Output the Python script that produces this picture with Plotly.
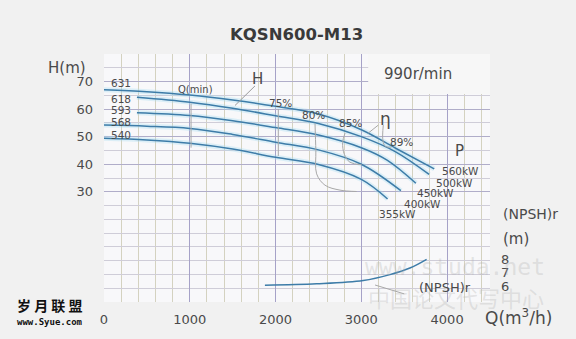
import plotly.graph_objects as go

# ---------------- data ----------------
diam_labels = ["631", "618", "593", "568", "540"]
q_631 = [0, 500, 1000, 1500, 2000, 2500, 3000, 3400, 3850]
h_631 = [67.0, 66.3, 65.1, 63.3, 61.0, 58.2, 52.5, 45.8, 38.3]
q_618 = [384, 1000, 1500, 2000, 2500, 3000, 3400, 3790]
h_618 = [64.3, 62.5, 60.3, 57.6, 54.8, 50.0, 44.5, 36.3]
q_593 = [384, 1000, 1500, 2000, 2500, 3000, 3300, 3636]
h_593 = [58.7, 57.7, 55.8, 53.3, 50.6, 46.0, 41.5, 33.1]
q_568 = [0, 500, 1000, 1500, 2000, 2500, 3000, 3461]
h_568 = [54.2, 53.8, 53.0, 50.8, 48.0, 45.2, 40.0, 30.4]
q_540 = [0, 500, 1000, 1500, 2000, 2500, 3000, 3306]
h_540 = [49.4, 48.8, 47.6, 45.5, 42.5, 39.9, 34.5, 27.4]

power_labels = ["560kW", "500kW", "450kW", "400kW", "355kW"]
power_q = [3917, 3847, 3626, 3470, 3179]
power_h = [37.5, 33.3, 29.4, 25.7, 22.1]
diam_label_h = [69.6, 63.7, 59.6, 55.4, 50.7]

# iso-efficiency lines
qmin_q = [1015, 1015]
qmin_h = [62.0, 46.0]
eff75_q = [2032, 2032]
eff75_h = [60.0, 43.0]
eff80_q = [2460, 2470, 2479, 2576, 2751, 2946]
eff80_h = [54.8, 45.0, 36.5, 32.4, 30.6, 30.1]
eff85_q = [2810, 2782, 2802, 2868, 3004]
eff85_h = [51.3, 47.8, 43.6, 40.7, 39.8]
eff89_q = [3256, 3252, 3280, 3350]
eff89_h = [54.2, 48.5, 46.5, 46.2]

# NPSHr curve
npsh_q = [1876, 2479, 3022, 3333, 3566, 3761]
npsh_v = [6.09, 6.19, 6.43, 6.86, 7.34, 7.98]

x_ticks = [0, 1000, 2000, 3000, 4000]
h_ticks = [30, 40, 50, 60, 70]
npsh_ticks = [6, 7, 8]

FONT = "DejaVu Sans"
TXT = "#4a4a4a"
CURVE = "#3d7ca8"

fig = go.Figure()

curves = [(q_631, h_631), (q_618, h_618), (q_593, h_593), (q_568, h_568), (q_540, h_540)]
for q, h in curves:
    fig.add_trace(go.Scatter(x=q, y=h, mode="lines", line=dict(color="rgba(165,222,242,0.35)", width=5, shape="spline"),
                             hoverinfo="skip", showlegend=False))
for q, h in curves:
    fig.add_trace(go.Scatter(x=q, y=h, mode="lines", line=dict(color=CURVE, width=1.5, shape="spline"),
                             showlegend=False))

for q, h in [(qmin_q, qmin_h), (eff75_q, eff75_h), (eff80_q, eff80_h), (eff85_q, eff85_h), (eff89_q, eff89_h)]:
    fig.add_trace(go.Scatter(x=q, y=h, mode="lines", line=dict(color="#a8a8a8", width=1, shape="spline"),
                             showlegend=False))

# pointer lines
fig.add_trace(go.Scatter(x=[1760, 1527], y=[68.4, 61.3], mode="lines", line=dict(color="#9a9a9a", width=1), showlegend=False))
fig.add_trace(go.Scatter(x=[3198, 3081], y=[54.2, 51.3], mode="lines", line=dict(color="#a8a8a8", width=1), showlegend=False))

fig.add_trace(go.Scatter(x=npsh_q, y=npsh_v, yaxis="y2", mode="lines",
                         line=dict(color=CURVE, width=1.5, shape="spline"), showlegend=False))
fig.add_trace(go.Scatter(x=[3160, 3500], y=[6.1, 5.45], yaxis="y2", mode="lines",
                         line=dict(color="#a8a8a8", width=1), showlegend=False))

ann = []
def t(x, y, s, size=10.5, xanchor="center", xref="x", yref="y", color=TXT, family=FONT):
    ann.append(dict(x=x, y=y, xref=xref, yref=yref, text=s, showarrow=False, xanchor=xanchor,
                    yanchor="middle", font=dict(family=family, size=size, color=color)))

# watermarks first (drawn underneath other texts)
t(0.909, 0.142, "www.studa.net", size=23, xref="paper", yref="paper",
  color="rgba(175,175,175,0.30)", family="DejaVu Sans Mono")
t(0.912, 0.02, "中国论文代写中心", size=22, xref="paper", yref="paper",
  color="rgba(175,175,175,0.30)", family="Noto Sans CJK SC")

for lab, hh in zip(diam_labels, diam_label_h):
    t(200, hh, lab)
for lab, q, hh in zip(power_labels, power_q, power_h):
    t(q, hh, lab, xanchor="left")
t(1061, 67.2, "Q(min)", size=10)
t(1795, 70.8, "H", size=15)
t(2052, 62.2, "75%", size=10.5)
t(2437, 57.7, "80%", size=10.5)
t(2868, 54.8, "85%", size=10.5)
t(3276, 56.3, "η", size=17)
t(3470, 48.1, "89%", size=10.5)
t(4150, 44.8, "P", size=15)
t(3660, 72.9, "990r/min", size=15)
t(3975, 5.93, "(NPSH)r", size=13, yref="y2")

# outside texts (paper coords)
t(-0.095, 0.945, "H(m)", size=15, xref="paper", yref="paper")
t(1.028, 0.355, "(NPSH)r", size=14, xanchor="left", xref="paper", yref="paper")
t(1.028, 0.255, "(m)", size=15, xanchor="left", xref="paper", yref="paper")
t(1.073, -0.059, "Q(m<sup>3</sup>/h)", size=17, xref="paper", yref="paper")

t(-0.14, -0.012, "<b>岁 月 联 盟</b>", size=14, xref="paper", yref="paper", color="#111",
  family="Noto Sans CJK SC")
t(-0.14, -0.079, "<b>www.Syue.com</b>", size=9, xref="paper", yref="paper", color="#111",
  family="DejaVu Sans Mono")

ann.append(dict(x=(296 - 104) / 386.0, y=(308 - 22) / 254.0, xref="paper", yref="paper",
                text="<b>KQSN600-M13</b>", showarrow=False,
                font=dict(family=FONT, size=16.5, color="#3a3a3a")))

fig.update_layout(
    width=576, height=339,
    margin=dict(l=104, r=86, t=54, b=31),
    paper_bgcolor="#f1f1f1",
    plot_bgcolor="#f8f8fa",
    annotations=ann,
    shapes=[dict(type="rect", xref="x", yref="y", x0=3080, x1=4500, y0=65.5, y1=80,
                 fillcolor="#f7f7f7", line=dict(width=0), layer="between")],
    xaxis=dict(range=[0, 4500], tickmode="array", tickvals=x_ticks, showgrid=True,
               gridcolor="#a6a2c8", gridwidth=1, zeroline=False, showline=False, ticks="",
               ticklabelstandoff=8,
               tickfont=dict(family=FONT, size=13, color=TXT),
               minor=dict(dtick=200, tick0=0, showgrid=True, gridcolor="#d4d2c0", gridwidth=1)),
    yaxis=dict(range=[-10, 80], tickmode="array", tickvals=h_ticks, showgrid=True,
               gridcolor="#b0adc9", gridwidth=1, zeroline=False, showline=False, ticks="",
               ticklabelstandoff=10,
               tickfont=dict(family=FONT, size=13, color=TXT),
               minor=dict(dtick=5, tick0=0, showgrid=True, gridcolor="#cfcdd8", gridwidth=1)),
    yaxis2=dict(range=[4.857, 23], overlaying="y", side="right", tickmode="array",
                tickvals=npsh_ticks, showgrid=False, zeroline=False, showline=False, ticks="",
                ticklabelstandoff=10,
                tickfont=dict(family=FONT, size=13, color=TXT)),
    showlegend=False,
)

fig.write_html("out.html")
